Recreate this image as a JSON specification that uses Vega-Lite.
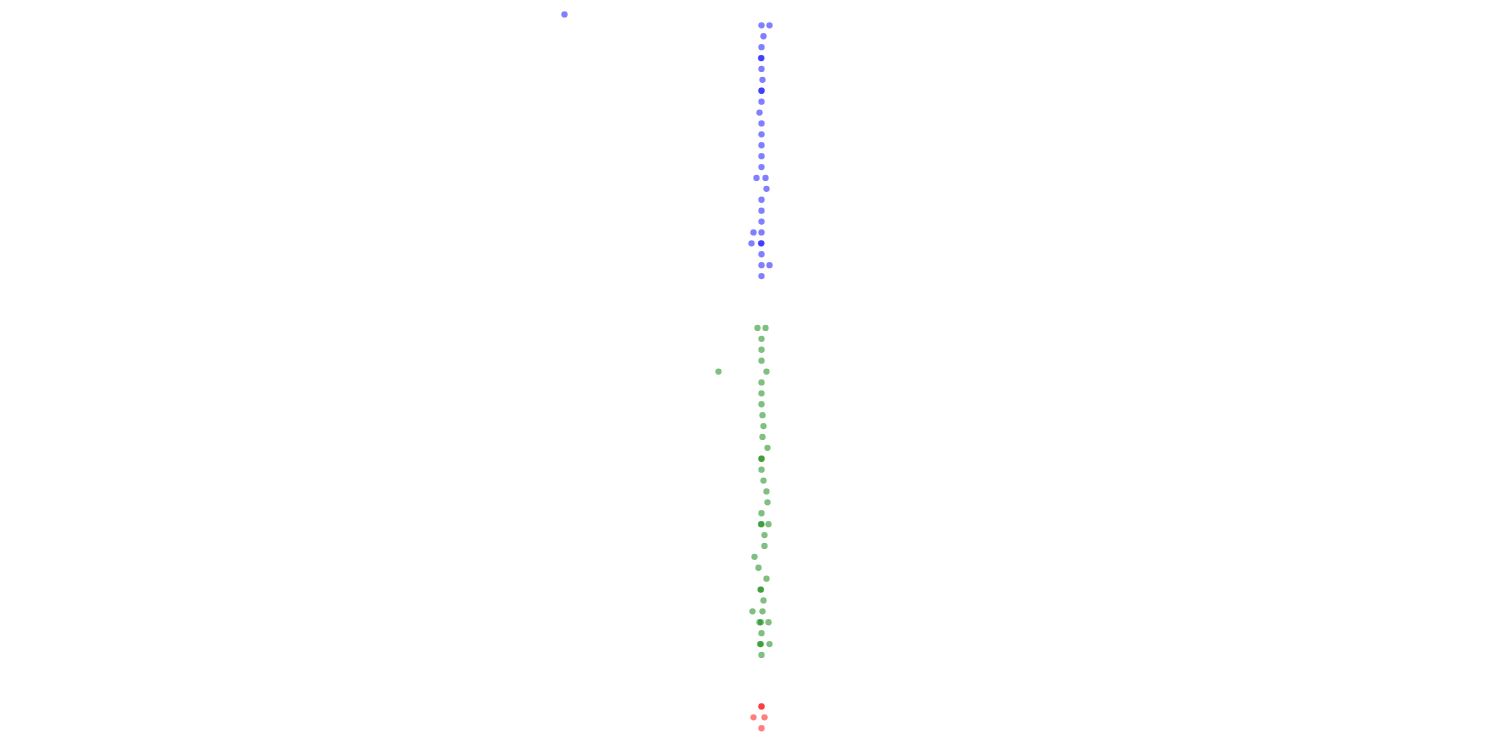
{
  "$schema": "https://vega.github.io/schema/vega-lite/v6.json",
  "padding": {"top": 9, "left": 0.5, "right": 0, "bottom": 0},
  "data": {"values": [
    {"g":"A","r":0,"v":564},
    {"g":"A","r":1,"v":761},{"g":"A","r":1,"v":769},
    {"g":"A","r":2,"v":763},
    {"g":"A","r":3,"v":761},
    {"g":"A","r":4,"v":760.5},{"g":"A","r":4,"v":761},
    {"g":"A","r":5,"v":761},
    {"g":"A","r":6,"v":762},
    {"g":"A","r":7,"v":761},{"g":"A","r":7,"v":761},
    {"g":"A","r":8,"v":761},
    {"g":"A","r":9,"v":759},
    {"g":"A","r":10,"v":761},
    {"g":"A","r":11,"v":761},
    {"g":"A","r":12,"v":761},
    {"g":"A","r":13,"v":761},
    {"g":"A","r":14,"v":761},
    {"g":"A","r":15,"v":756},{"g":"A","r":15,"v":765},
    {"g":"A","r":16,"v":766},
    {"g":"A","r":17,"v":761},
    {"g":"A","r":18,"v":761},
    {"g":"A","r":19,"v":761},
    {"g":"A","r":20,"v":753},{"g":"A","r":20,"v":761},
    {"g":"A","r":21,"v":751},{"g":"A","r":21,"v":760.5},{"g":"A","r":21,"v":761},
    {"g":"A","r":22,"v":761},
    {"g":"A","r":23,"v":761},{"g":"A","r":23,"v":769},
    {"g":"A","r":24,"v":761},
    {"g":"B","r":0,"v":757},{"g":"B","r":0,"v":765},
    {"g":"B","r":1,"v":761},
    {"g":"B","r":2,"v":761},
    {"g":"B","r":3,"v":761},
    {"g":"B","r":4,"v":718},{"g":"B","r":4,"v":766},
    {"g":"B","r":5,"v":761},
    {"g":"B","r":6,"v":761},
    {"g":"B","r":7,"v":761},
    {"g":"B","r":8,"v":762},
    {"g":"B","r":9,"v":763},
    {"g":"B","r":10,"v":762},
    {"g":"B","r":11,"v":767},
    {"g":"B","r":12,"v":761},{"g":"B","r":12,"v":761},
    {"g":"B","r":13,"v":761},
    {"g":"B","r":14,"v":763},
    {"g":"B","r":15,"v":766},
    {"g":"B","r":16,"v":767},
    {"g":"B","r":17,"v":761},
    {"g":"B","r":18,"v":760.5},{"g":"B","r":18,"v":761},{"g":"B","r":18,"v":768},
    {"g":"B","r":19,"v":764},
    {"g":"B","r":20,"v":764},
    {"g":"B","r":21,"v":754},
    {"g":"B","r":22,"v":758},
    {"g":"B","r":23,"v":766},
    {"g":"B","r":24,"v":760},{"g":"B","r":24,"v":760.5},
    {"g":"B","r":25,"v":763},
    {"g":"B","r":26,"v":752},{"g":"B","r":26,"v":762},
    {"g":"B","r":27,"v":759},{"g":"B","r":27,"v":760.5},{"g":"B","r":27,"v":768},
    {"g":"B","r":28,"v":761},
    {"g":"B","r":29,"v":759.5},{"g":"B","r":29,"v":760.5},{"g":"B","r":29,"v":769},
    {"g":"B","r":30,"v":761},
    {"g":"C","r":0,"v":761},{"g":"C","r":0,"v":761},
    {"g":"C","r":1,"v":753},{"g":"C","r":1,"v":764},
    {"g":"C","r":2,"v":761}
  ]},
  "facet": {"row": {"field": "g", "type": "nominal", "header": null}},
  "spacing": 40.5,
  "resolve": {"scale": {"y": "independent"}},
  "spec": {
    "width": 1500,
    "height": {"step": 10.9},
    "mark": {"type": "point", "shape": "circle", "filled": true, "size": 40, "opacity": 0.5},
    "encoding": {
      "x": {"field": "v", "type": "quantitative", "scale": {"domain": [0, 1500], "nice": false, "zero": false}, "axis": null},
      "y": {"field": "r", "type": "ordinal", "axis": null},
      "color": {"field": "g", "type": "nominal", "scale": {"domain": ["A", "B", "C"], "range": ["#0000ff", "#008000", "#ff0000"]}, "legend": null}
    }
  },
  "config": {"view": {"stroke": null}}
}
